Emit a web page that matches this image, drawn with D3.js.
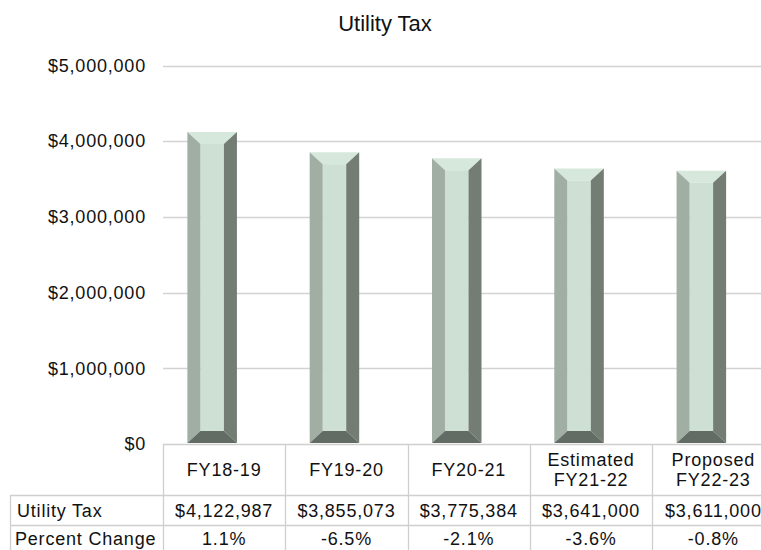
<!DOCTYPE html>
<html>
<head>
<meta charset="utf-8">
<script src="https://cdn.jsdelivr.net/npm/d3@7"></script>
<style>
  html, body { margin: 0; padding: 0; background: #ffffff; }
  svg { display: block; font-family: "Liberation Sans", Arial, sans-serif; }
</style>
</head>
<body>
<svg id="chart" width="761" height="550"></svg>
<script>
// Fiscal years (header lines of the data table)
const categories = ["FY18-19", "FY19-20", "FY20-21", "Estimated\nFY21-22", "Proposed\nFY22-23"];
// Utility tax revenue per year
const utilityTax = [4122987, 3855073, 3775384, 3641000, 3611000];
// Year-over-year percent change
const percentChange = [1.1, -6.5, -2.1, -3.6, -0.8];
// Value axis ticks
const yTicks = [0, 1000000, 2000000, 3000000, 4000000, 5000000];

const svg = d3.select("#chart");
const W = 761;

const plotLeft = 163, plotRight = 774.5;
const plotTop = 65.5, plotBottom = 444;
const tableLeft = 10;
const headerBottom = 495, row1Bottom = 525, row2Bottom = 555;

const x = d3.scaleBand().domain(categories).range([plotLeft, plotRight]).padding(0);
const y = d3.scaleLinear().domain([0, 5000000]).range([plotBottom, plotTop]);

const money = d3.format("$,.0f");
const pct = v => v.toFixed(1) + "%";
const textColor = "#111";
const gridColor = "#d3d3d3";

// Title
svg.append("text")
  .attr("x", 385).attr("y", 31)
  .attr("text-anchor", "middle")
  .attr("font-size", 22)
  .attr("fill", textColor)
  .text("Utility Tax");

// Horizontal gridlines
svg.append("g")
  .selectAll("line")
  .data(yTicks.filter(d => d > 0))
  .join("line")
  .attr("x1", plotLeft).attr("x2", W)
  .attr("y1", d => Math.round(y(d)) + 0.5).attr("y2", d => Math.round(y(d)) + 0.5)
  .attr("stroke", gridColor).attr("stroke-width", 1.3);

// Value axis labels
const yAxis = d3.axisLeft(y).tickValues(yTicks).tickFormat(money).tickSize(0).tickPadding(0);
const yAxisG = svg.append("g").attr("transform", `translate(146,0)`).call(yAxis);
yAxisG.select(".domain").remove();
yAxisG.selectAll("text")
  .attr("font-size", 18)
  .attr("letter-spacing", 0.8)
  .attr("font-family", "Liberation Sans, Arial, sans-serif")
  .attr("fill", textColor);

// Bevelled columns
const barW = x.bandwidth() * 0.405;
const shift = -12;   // columns sit slightly left of their table cell centre
const bev = 13, bevV = 12;
const colors = { face: "#cee0d4", top: "#d6e8dc", left: "#a1aea3", right: "#737d74", bottom: "#636c64" };

const bars = svg.append("g").selectAll("g")
  .data(categories.map((c, i) => ({ c, v: utilityTax[i] })))
  .join("g");

bars.each(function (d) {
  const g = d3.select(this);
  const cx = x(d.c) + x.bandwidth() / 2 + shift;
  const x0 = cx - barW / 2, x1 = cx + barW / 2;
  const t = y(d.v), b = y(0) - 1;
  const poly = pts => pts.map(p => p.join(",")).join(" ");
  g.append("rect").attr("x", x0 + bev).attr("y", t + bevV)
    .attr("width", x1 - x0 - 2 * bev).attr("height", b - t - 2 * bevV)
    .attr("fill", colors.face);
  g.append("polygon").attr("fill", colors.top)
    .attr("points", poly([[x0, t], [x1, t], [x1 - bev, t + bevV], [x0 + bev, t + bevV]]));
  g.append("polygon").attr("fill", colors.left)
    .attr("points", poly([[x0, t], [x0 + bev, t + bevV], [x0 + bev, b - bevV], [x0, b]]));
  g.append("polygon").attr("fill", colors.right)
    .attr("points", poly([[x1, t], [x1, b], [x1 - bev, b - bevV], [x1 - bev, t + bevV]]));
  g.append("polygon").attr("fill", colors.bottom)
    .attr("points", poly([[x0, b], [x0 + bev, b - bevV], [x1 - bev, b - bevV], [x1, b]]));
});

// Data table grid
const tbl = svg.append("g").attr("stroke", "#cfcfcf").attr("stroke-width", 1.3);
tbl.append("line").attr("x1", plotLeft).attr("x2", W).attr("y1", plotBottom + 0.5).attr("y2", plotBottom + 0.5);
tbl.append("line").attr("x1", tableLeft).attr("x2", W).attr("y1", headerBottom + 0.5).attr("y2", headerBottom + 0.5);
tbl.append("line").attr("x1", tableLeft).attr("x2", W).attr("y1", row1Bottom + 0.5).attr("y2", row1Bottom + 0.5);
tbl.append("line").attr("x1", tableLeft + 0.5).attr("x2", tableLeft + 0.5).attr("y1", headerBottom).attr("y2", 550);
tbl.selectAll("line.col")
  .data(categories)
  .join("line").attr("class", "col")
  .attr("x1", d => Math.round(x(d)) + 0.5).attr("x2", d => Math.round(x(d)) + 0.5)
  .attr("y1", plotBottom).attr("y2", 550);

// Header cells
const txt = svg.append("g").attr("fill", textColor).attr("font-size", 18).attr("letter-spacing", 0.8);
categories.forEach(c => {
  const lines = c.split("\n");
  const cx = x(c) + x.bandwidth() / 2;
  const mid = (plotBottom + headerBottom) / 2;
  const lh = 20;
  lines.forEach((ln, j) => {
    txt.append("text")
      .attr("x", cx).attr("text-anchor", "middle")
      .attr("y", mid + (j - (lines.length - 1) / 2) * lh + 6.5)
      .text(ln);
  });
});

// Row labels
txt.append("text").attr("x", 17).attr("y", (headerBottom + row1Bottom) / 2 + 6.5).text("Utility Tax");
txt.append("text").attr("x", 15).attr("y", (row1Bottom + row2Bottom) / 2 + 5).text("Percent Change");

// Row values
categories.forEach((c, i) => {
  const cx = x(c) + x.bandwidth() / 2;
  txt.append("text").attr("x", cx).attr("text-anchor", "middle")
    .attr("y", (headerBottom + row1Bottom) / 2 + 6.5).text(money(utilityTax[i]));
  txt.append("text").attr("x", cx).attr("text-anchor", "middle")
    .attr("y", (row1Bottom + row2Bottom) / 2 + 5).text(pct(percentChange[i]));
});
</script>
</body>
</html>
